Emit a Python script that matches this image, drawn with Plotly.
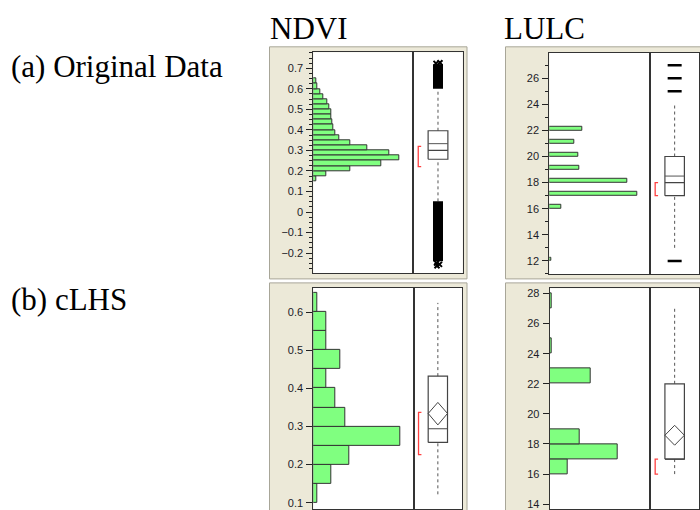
import plotly.graph_objects as go

# ---------------- data ----------------
# (a) Original data - NDVI histogram (bin width 0.025, lower edges from 0.15)
ndvi_orig_bin_lo = [0.15, 0.175, 0.2, 0.225, 0.25, 0.275, 0.3, 0.325, 0.35, 0.375,
                    0.4, 0.425, 0.45, 0.475, 0.5, 0.525, 0.55, 0.575, 0.6, 0.625]
ndvi_orig_freq = [3, 12.7, 37, 68, 86, 76, 54, 37, 26, 22,
                  20, 19, 18, 18, 16, 13.7, 10, 7, 4.3, 2.7]
ndvi_orig_binw = 0.025
ndvi_orig_box = dict(q1=0.257, q3=0.396, median=0.300, mean=0.333,
                     lo=0.052, hi=0.600, sh_lo=0.221, sh_hi=0.320)
ndvi_orig_out_hi = [0.600, 0.720]
ndvi_orig_out_lo = [-0.240, 0.052]
ndvi_orig_out_pts = [0.724, 0.727, -0.248, -0.255, -0.262]

# (a) Original data - LULC histogram (values at integer classes)
lulc_orig_bin_lo = [12, 16, 17, 18, 19, 20, 21, 22]
lulc_orig_freq = [2, 11.7, 87.7, 77.7, 30.3, 29, 24.7, 33.3]
lulc_orig_binw = 0.27
lulc_orig_box = dict(q1=17, q3=20, median=18, mean=18.5,
                     lo=13, hi=24, sh_lo=17, sh_hi=18)
lulc_orig_out = [12, 25, 26, 27]

# (b) cLHS - NDVI histogram (bin width 0.05)
ndvi_clhs_bin_lo = [0.1, 0.15, 0.2, 0.25, 0.3, 0.35, 0.4, 0.45, 0.5, 0.55, 0.6]
ndvi_clhs_freq = [4.3, 18.3, 36.3, 86.7, 32, 22.3, 12.7, 27, 12.7, 12.7, 4.3]
ndvi_clhs_binw = 0.05
ndvi_clhs_box = dict(q1=0.258, q3=0.432, median=0.294, mean=0.334,
                     d_lo=0.304, d_hi=0.363, lo=0.122, hi=0.624,
                     sh_lo=0.226, sh_hi=0.337)

# (b) cLHS - LULC histogram (bin width 1)
lulc_clhs_bin_lo = [16, 17, 18, 22, 24, 27]
lulc_clhs_freq = [18, 67.7, 30, 40.7, 2, 2]
lulc_clhs_binw = 1
lulc_clhs_box = dict(q1=17, q3=22, median=17, mean=18.58,
                     d_lo=17.92, d_hi=19.24, lo=16, hi=27,
                     sh_lo=16, sh_hi=17)

col_titles = ["NDVI", "LULC"]
row_titles = ["(a) Original Data", "(b) cLHS"]

# ---------------- layout helpers ----------------
W, H = 700, 510
def X(px): return px / W
def Y(py): return 1 - py / H

BAR_FILL = "#80FF80"
EDGE = "#333333"
FRAME = "#ECE9D8"
FRAME_LINE = "#A8A698"
TICKFONT = dict(family="Liberation Sans", size=11, color="#1c1c28")

fig = go.Figure()
shapes = []
layout_axes = {}

panels = [
    dict(fx=(269.5, 467), fy=(46, 279), hx=(313.3, 413.3), bx=(413.3, 462.7),
         py=(51.5, 273.5), yr=(-0.299, 0.778), dtick=0.1, minor=0.025),
    dict(fx=(505.5, 710), fy=(46, 279), hx=(549.3, 650.3), bx=(650.3, 699),
         py=(52, 274), yr=(11.0, 27.95), dtick=2, minor=1),
    dict(fx=(269.5, 467), fy=(283, 520), hx=(313.3, 413.7), bx=(413.7, 462),
         py=(288, 510), yr=(0.0835, 0.6634), dtick=0.1, minor=None),
    dict(fx=(505.5, 710), fy=(283, 520), hx=(549.7, 650.3), bx=(650.3, 699),
         py=(288.5, 510), yr=(13.68, 28.34), dtick=2, minor=None),
]

hists = [
    (ndvi_orig_bin_lo, ndvi_orig_freq, ndvi_orig_binw),
    (lulc_orig_bin_lo, lulc_orig_freq, lulc_orig_binw),
    (ndvi_clhs_bin_lo, ndvi_clhs_freq, ndvi_clhs_binw),
    (lulc_clhs_bin_lo, lulc_clhs_freq, lulc_clhs_binw),
]
boxes = [ndvi_orig_box, lulc_orig_box, ndvi_clhs_box, lulc_clhs_box]

BL, BR, BC = 0.30, 0.70, 0.50   # box left/right/centre in box-axis units

for i, (p, h, b) in enumerate(zip(panels, hists, boxes)):
    ha, ba = 2 * i + 1, 2 * i + 2
    xh, yh = f"x{ha}", f"y{ha}"
    xb, yb = f"x{ba}", f"y{ba}"
    shapes.append(dict(type="rect", xref="paper", yref="paper", layer="below",
                       x0=X(p["fx"][0]), x1=X(p["fx"][1]),
                       y0=Y(p["fy"][1]), y1=Y(p["fy"][0]),
                       fillcolor=FRAME, line=dict(color=FRAME_LINE, width=1)))
    shapes.append(dict(type="rect", xref="paper", yref="paper", layer="below",
                       x0=X(p["hx"][0]), x1=X(p["bx"][1]),
                       y0=Y(p["py"][1]), y1=Y(p["py"][0]),
                       fillcolor="white", line=dict(width=0)))
    ydom = [max(0, Y(p["py"][1])), Y(p["py"][0])]
    common = dict(range=list(p["yr"]), showgrid=False, zeroline=False,
                  showline=True, mirror=True, linecolor=EDGE, linewidth=1)
    yaxis_h = dict(domain=ydom, anchor=xh, ticks="outside", ticklen=6,
                   tickcolor="#222", dtick=p["dtick"], tick0=0,
                   tickfont=TICKFONT, ticklabelstandoff=1,
                   ticklabeloverflow="allow", **common)
    if p["minor"]:
        yaxis_h["minor"] = dict(dtick=p["minor"], tick0=0, ticks="outside",
                                ticklen=3, tickcolor="#222")
    layout_axes[f"yaxis{ha}"] = yaxis_h
    layout_axes[f"xaxis{ha}"] = dict(domain=[X(p["hx"][0]), X(p["hx"][1])],
                                     anchor=yh, range=[0, p["hx"][1] - p["hx"][0]],
                                     showticklabels=False, ticks="", showgrid=False,
                                     zeroline=False, showline=True, mirror=True,
                                     linecolor=EDGE, linewidth=1)
    layout_axes[f"yaxis{ba}"] = dict(domain=ydom, anchor=xb, showticklabels=False,
                                     ticks="", **common)
    layout_axes[f"xaxis{ba}"] = dict(domain=[X(p["bx"][0]), X(p["bx"][1])],
                                     anchor=yb, range=[0, 1], showticklabels=False,
                                     ticks="", showgrid=False, zeroline=False,
                                     showline=True, mirror=True, linecolor=EDGE,
                                     linewidth=1)

    lo, fr, bw = h
    fig.add_trace(go.Bar(orientation="h", x=fr, y=[v + bw / 2 for v in lo],
                         width=bw, xaxis=xh, yaxis=yh,
                         marker=dict(color=BAR_FILL, line=dict(color=EDGE, width=1)),
                         showlegend=False, hoverinfo="skip"))

    fig.add_trace(go.Scatter(x=[BC, BC, None, BC, BC],
                             y=[b["q3"], b["hi"], None, b["lo"], b["q1"]],
                             mode="lines", xaxis=xb, yaxis=yb,
                             line=dict(color="#555", width=1, dash="dot"),
                             showlegend=False, hoverinfo="skip"))
    fig.add_trace(go.Scatter(x=[BL, BR, BR, BL, BL, None, BL, BR],
                             y=[b["q1"], b["q1"], b["q3"], b["q3"], b["q1"], None,
                                b["median"], b["median"]],
                             mode="lines", xaxis=xb, yaxis=yb,
                             line=dict(color="#444", width=1.2),
                             showlegend=False, hoverinfo="skip"))
    if "d_lo" in b:
        fig.add_trace(go.Scatter(x=[BL, BC, BR, BC, BL],
                                 y=[b["mean"], b["d_hi"], b["mean"], b["d_lo"], b["mean"]],
                                 mode="lines", xaxis=xb, yaxis=yb,
                                 line=dict(color="#444", width=1),
                                 showlegend=False, hoverinfo="skip"))
    else:
        fig.add_trace(go.Scatter(x=[BL, BR], y=[b["mean"], b["mean"]],
                                 mode="lines", xaxis=xb, yaxis=yb,
                                 line=dict(color="#555", width=1),
                                 showlegend=False, hoverinfo="skip"))
    fig.add_trace(go.Scatter(x=[0.16, 0.10, 0.10, 0.16],
                             y=[b["sh_hi"], b["sh_hi"], b["sh_lo"], b["sh_lo"]],
                             mode="lines", xaxis=xb, yaxis=yb,
                             line=dict(color="#FF4040", width=1.3),
                             showlegend=False, hoverinfo="skip"))

# outliers NDVI original: dense columns of points
fig.add_trace(go.Scatter(x=[BC, BC, None, BC, BC],
                         y=ndvi_orig_out_hi + [None] + ndvi_orig_out_lo,
                         mode="lines", xaxis="x2", yaxis="y2",
                         line=dict(color="black", width=10),
                         showlegend=False, hoverinfo="skip"))
fig.add_trace(go.Scatter(x=[BC - 0.04, BC + 0.04, BC - 0.03, BC + 0.03, BC - 0.02],
                         y=ndvi_orig_out_pts, mode="markers", xaxis="x2", yaxis="y2",
                         marker=dict(symbol="x-thin", size=5,
                                     line=dict(color="black", width=2)),
                         showlegend=False, hoverinfo="skip"))
# outliers LULC original: dashes
fig.add_trace(go.Scatter(x=[BC] * len(lulc_orig_out), y=lulc_orig_out,
                         mode="markers", xaxis="x4", yaxis="y4",
                         marker=dict(symbol="line-ew", size=10,
                                     line=dict(color="black", width=2.5)),
                         showlegend=False, hoverinfo="skip"))

TFONT = dict(family="Liberation Serif", size=31, color="black")
annotations = [
    dict(text=col_titles[0], x=X(268), y=Y(28), xanchor="left", yanchor="middle"),
    dict(text=col_titles[1], x=X(502), y=Y(28), xanchor="left", yanchor="middle"),
    dict(text=row_titles[0], x=X(9), y=Y(66), xanchor="left", yanchor="middle"),
    dict(text=row_titles[1], x=X(9), y=Y(300), xanchor="left", yanchor="middle"),
]
for a in annotations:
    a.update(xref="paper", yref="paper", showarrow=False, font=TFONT)

fig.update_layout(width=W, height=H, margin=dict(l=0, r=0, t=0, b=0),
                  paper_bgcolor="white", plot_bgcolor="rgba(0,0,0,0)",
                  showlegend=False, shapes=shapes, annotations=annotations,
                  bargap=0, hovermode=False, **layout_axes)
fig.write_html("out.html", config={"displayModeBar": False},
               post_script="document.body.style.margin='0';"
                           "document.body.style.overflow='hidden';")
